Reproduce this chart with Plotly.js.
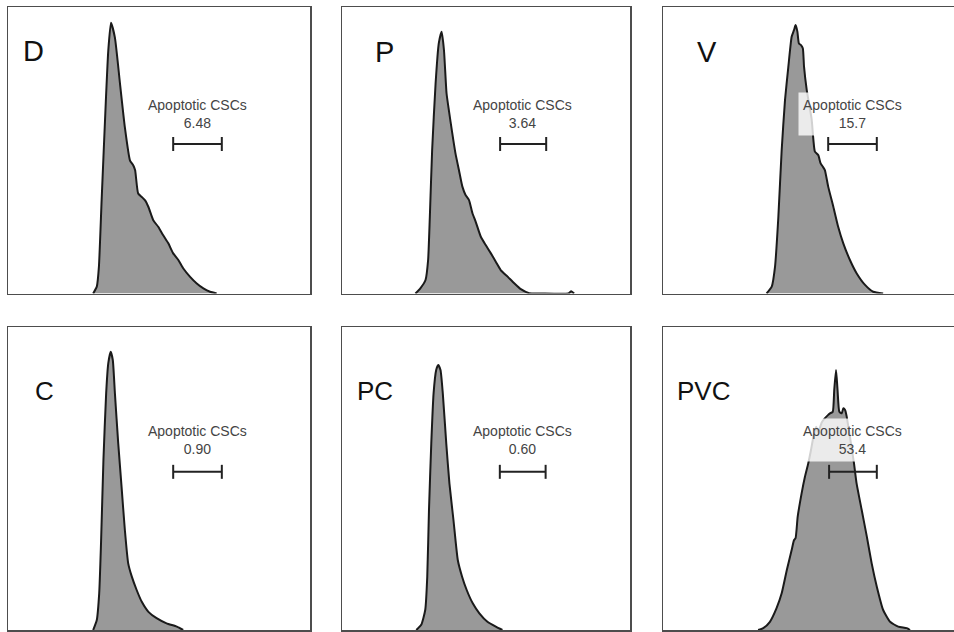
<!DOCTYPE html>
<html>
<head>
<meta charset="utf-8">
<script src="https://cdn.plot.ly/plotly-3.0.1.min.js"></script>
<style>
html,body{margin:0;padding:0;background:#fff;}
#chart{width:954px;height:632px;}
</style>
</head>
<body>
<div id="chart"></div>
<script>
// ---- data (channel position in % of axis, count in % of panel max) ----
var panelNames = ["D", "P", "V", "C", "PC", "PVC"];
var apoptoticPct = ["6.48", "3.64", "15.7", "0.90", "0.60", "53.4"];
var gateLabel = "Apoptotic CSCs";

var dX = [28.2,29.4,30.1,31.0,32.4,33.2,34.1,35.4,37.1,38.7,40.4,41.5,42.1,43.1,44.3,45.4,46.5,48.1,49.8,51.4,53.1,54.7,56.4,58.0,60.3,62.5,64.7,66.9,69.1];
var dY = [0,2.4,9.3,32.5,67.3,84.7,94.5,89.3,73.1,58.0,46.4,44.7,43.0,34.9,33.7,32.5,30.2,25.6,23.2,20.3,17.5,14.0,11.7,8.8,5.8,3.5,1.8,0.6,0];

var pX = [25.5,27.2,29.0,29.9,30.5,31.3,32.5,33.6,34.6,35.4,36.3,37.1,38.3,39.4,40.6,41.8,42.9,44.1,45.3,46.4,48.2,49.9,51.7,53.4,55.1,57.5,59.8,62.1,65.0,69.1,78.6,79.6,80.6];
var pY = [0,1.8,4.7,11.7,26.8,50.1,73.4,87.3,91.4,85.0,69.9,64.0,55.9,48.9,43.1,37.3,34.4,32.6,28.0,25.1,19.8,16.9,14.0,11.1,8.2,5.9,3.6,1.5,0.1,0,0,0.8,0];

var vX = [34.3,36.0,37.1,38.2,39.3,40.4,41.5,42.6,43.4,43.9,44.5,45.0,45.7,46.3,46.7,47.6,49.2,49.8,50.3,51.4,52.2,52.9,53.6,54.7,56.4,58.0,59.7,61.9,64.1,66.9,69.6,72.9];
var vY = [0,2.4,9.4,26.8,50.1,67.5,79.1,89.6,92.0,93.7,91.4,87.3,86.7,85.6,79.2,71.0,61.0,53.6,49.5,48.3,45.4,44.3,43.1,37.3,30.3,23.3,17.5,11.7,7.1,3.0,0.6,0];

var cX = [28.2,29.4,30.2,30.8,31.6,32.5,33.2,34.0,34.7,35.4,36.5,37.6,38.7,39.8,41.0,42.6,44.3,46.5,49.2,52.5,55.9,58.0];
var cY = [0,3.3,12.1,28.6,56.1,78.1,88.0,91.8,89.1,78.1,61.6,47.3,33.0,22.0,17.6,13.2,9.3,6.0,3.9,2.2,1.1,0];

var pcX = [25.8,27.5,28.9,29.6,30.2,31.0,31.8,32.7,33.4,34.2,35.0,36.2,37.3,38.7,40.2,41.7,43.3,45.4,47.7,50.5,53.4,55.7];
var pcY = [0,1.7,6.6,17.6,39.6,61.6,78.1,85.8,87.5,85.8,78.1,61.6,48.4,36.3,23.1,17.6,13.2,8.8,5.5,2.7,1.1,0];

var pvcX = [31.5,33.2,35.4,37.6,39.3,41.0,42.6,43.4,43.9,44.6,45.9,47.0,48.1,49.0,49.8,50.7,51.4,52.6,54.7,55.3,56.2,56.7,57.3,57.8,58.4,59.2,59.7,60.3,60.8,61.9,63.2,64.1,65.8,67.5,69.1,70.8,72.9,75.2,77.9,80.7,81.8];
var pvcY = [0,0.6,2.7,7.2,12.1,19.8,26.4,29.7,30.3,37.4,45.1,50.6,55.0,59.4,63.8,67.1,65.3,68.6,71.0,71.5,72.0,79.2,85.8,79.2,72.0,71.5,73.2,72.6,70.6,63.8,55.3,48.4,39.6,30.8,22.0,14.3,6.6,2.7,1.1,0.6,0];

var gateLo = [54.7, 54.9, 54.7, 54.7, 54.8, 55.0];
var gateHi = [70.8, 70.9, 70.8, 70.8, 70.7, 70.8];

var seriesX = [dX, pX, vX, cX, pcX, pvcX];
var seriesY = [dY, pY, vY, cY, pcY, pvcY];

// ---- layout config (positions / styles) ----
var W = 954, H = 632;
var colPx = [[8, 310], [342, 630], [663, 954]];
var rowPx = [[7, 293.5], [327, 630]];
var colRange = [[0, 100], [0, 100], [0, 96.36]];
var letterPos = [[4.3, 84.6], [10.8, 84.3], [10.6, 84.3], [8.4, 78.9], [4.5, 78.9], [4.0, 78.9]];
var letterSize = [29, 29, 29, 26, 26, 26];
var gateLevel = 52.2;
var labelPos = [62.8, 62.6];

var traces = [];
var annotations = [];
var layout = {
  width: W, height: H,
  margin: {l: 0, r: 0, t: 0, b: 0},
  paper_bgcolor: "#ffffff",
  plot_bgcolor: "#ffffff",
  showlegend: false,
  annotations: annotations
};

for (var i = 0; i < 6; i++) {
  var col = i % 3, row = Math.floor(i / 3);
  var n = i + 1;
  var xa = "x" + (n === 1 ? "" : n), ya = "y" + (n === 1 ? "" : n);
  var xkey = "xaxis" + (n === 1 ? "" : n), ykey = "yaxis" + (n === 1 ? "" : n);
  layout[xkey] = {
    domain: [colPx[col][0] / W, colPx[col][1] / W],
    range: colRange[col],
    anchor: ya,
    showline: true, mirror: true, linecolor: "#4d4d4d", linewidth: 1.5,
    showgrid: false, zeroline: false, showticklabels: false, ticks: "",
    fixedrange: true
  };
  layout[ykey] = {
    domain: [1 - rowPx[row][1] / H, 1 - rowPx[row][0] / H],
    range: [0, 100],
    anchor: xa,
    showline: true, mirror: col < 2, linecolor: "#4d4d4d", linewidth: 1.5,
    showgrid: false, zeroline: false, showticklabels: false, ticks: "",
    fixedrange: true
  };

  traces.push({
    type: "scatter", mode: "lines",
    x: seriesX[i], y: seriesY[i],
    xaxis: xa, yaxis: ya,
    fill: "tozeroy", fillcolor: "#999999",
    line: {color: "#1a1a1a", width: 2, shape: "spline", smoothing: 0.5},
    hoverinfo: "skip"
  });

  traces.push({
    type: "scatter", mode: "lines+markers",
    x: [gateLo[i], gateHi[i]], y: [gateLevel, gateLevel],
    xaxis: xa, yaxis: ya,
    line: {color: "#222222", width: 2},
    marker: {symbol: "line-ns-open", size: 10, color: "#222222", line: {color: "#222222", width: 2}},
    hoverinfo: "skip"
  });

  annotations.push({
    xref: xa, yref: ya, x: labelPos[0], y: labelPos[1],
    xanchor: "center", yanchor: "middle",
    text: gateLabel + "<br>" + apoptoticPct[i],
    showarrow: false,
    font: {family: "Liberation Sans, Arial, sans-serif", size: 14, color: "#444444"},
    bgcolor: "rgba(255,255,255,0.8)",
    borderpad: 4
  });

  annotations.push({
    xref: xa, yref: ya, x: letterPos[i][0], y: letterPos[i][1],
    xanchor: "left", yanchor: "middle",
    text: panelNames[i],
    showarrow: false,
    font: {family: "Liberation Sans, Arial, sans-serif", size: letterSize[i], color: "#111111"}
  });
}

Plotly.newPlot("chart", traces, layout, {staticPlot: true, displayModeBar: false});
</script>
</body>
</html>
